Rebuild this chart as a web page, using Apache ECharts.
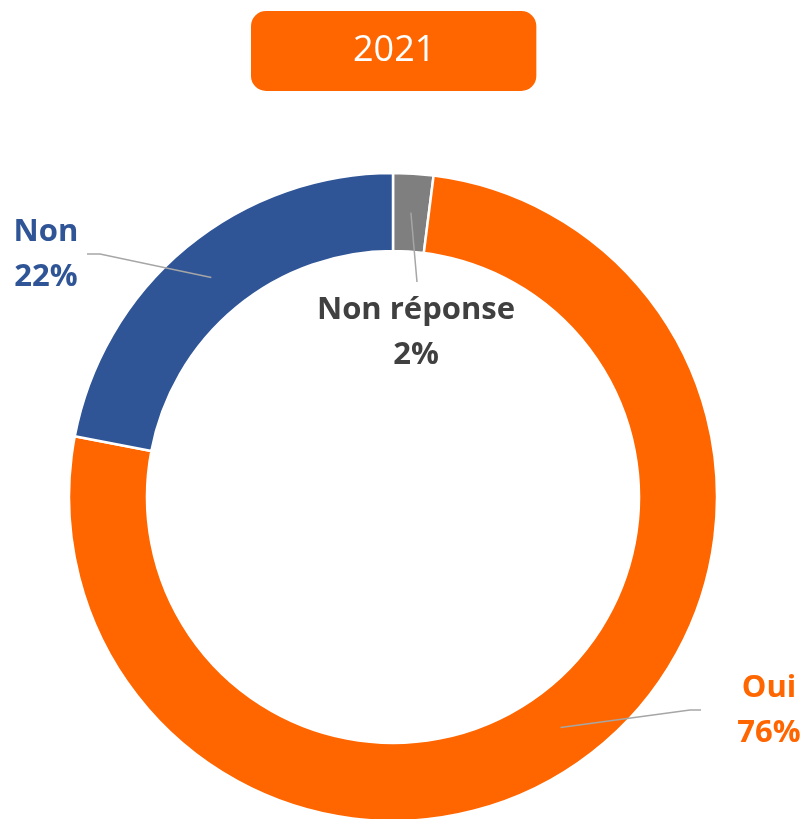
<!DOCTYPE html>
<html>
<head>
<meta charset="utf-8">
<title>2021</title>
<script src="https://cdn.jsdelivr.net/npm/echarts@6/dist/echarts.min.js"></script>
<style>
  html, body { margin: 0; padding: 0; background: #fff; }
  #chart { width: 807px; height: 819px; }
</style>
</head>
<body>
<div id="chart"></div>
<script>
'use strict';
// data
const categories = ['Non réponse', 'Oui', 'Non'];
const values = [2, 76, 22];
const sliceColors = ['#7F7F7F', '#FF6600', '#2F5597'];
const labelColors = ['#404040', '#FF6600', '#2F5597'];

const center = [393, 497];
const radius = [246, 324];
// where each label and the end of its leader line sit (by dataIndex)
const labelSpots = [
    { text: [416, 333], end: [417, 282] },
    { text: [769, 711], bend: [690, 710], end: [701, 710] },
    { text: [46, 255], bend: [100, 254], end: [87, 254] }
];

let instance = echarts.init(document.getElementById('chart'));
instance.setOption({
    title: {
        text: '2021',
        left: 251,
        top: 11,
        backgroundColor: '#FF6600',
        borderRadius: 15,
        padding: [22, 101, 22, 102],
        textStyle: {
            color: '#fff',
            fontFamily: 'Open Sans',
            fontWeight: 'normal',
            fontSize: 36,
            lineHeight: 36
        }
    },
    series: [{
        // the ring itself
        type: 'pie',
        z: 2,
        center: center,
        radius: radius,
        startAngle: 90,
        clockwise: true,
        silent: true,
        itemStyle: {
            borderColor: '#fff',
            borderWidth: 2.5
        },
        label: { show: false },
        labelLine: { show: false },
        data: categories.map((name, i) => ({
            name: name,
            value: values[i],
            itemStyle: { color: sliceColors[i] }
        }))
    }, {
        // same slices, invisible, only to carry labels and leader lines above the ring
        type: 'pie',
        z: 5,
        center: center,
        radius: radius,
        startAngle: 90,
        clockwise: true,
        avoidLabelOverlap: false,
        silent: true,
        itemStyle: {
            color: 'rgba(0,0,0,0)',
            borderWidth: 0
        },
        label: {
            show: true,
            formatter: '{b}\n{c}%',
            fontFamily: 'Open Sans',
            fontWeight: 'bold',
            fontSize: 31,
            lineHeight: 45,
            align: 'center'
        },
        labelLine: {
            show: true,
            lineStyle: { color: '#A6A6A6', width: 1.5, opacity: 1 }
        },
        labelLayout: (params) => {
            let spot = labelSpots[params.dataIndex];
            let p0 = params.labelLinePoints[0];
            let k = (radius[0] + radius[1]) / 2 / radius[1];
            let start = [center[0] + (p0[0] - center[0]) * k, center[1] + (p0[1] - center[1]) * k];
            let bend = spot.bend || [(start[0] + spot.end[0]) / 2, (start[1] + spot.end[1]) / 2];
            return {
                x: spot.text[0],
                y: spot.text[1],
                align: 'center',
                verticalAlign: 'middle',
                labelLinePoints: [start, bend, spot.end]
            };
        },
        data: categories.map((name, i) => ({
            name: name,
            value: values[i],
            label: { color: labelColors[i] }
        }))
    }]
});
window.onresize = () => {
    instance.resize();
};
</script>
</body>
</html>
